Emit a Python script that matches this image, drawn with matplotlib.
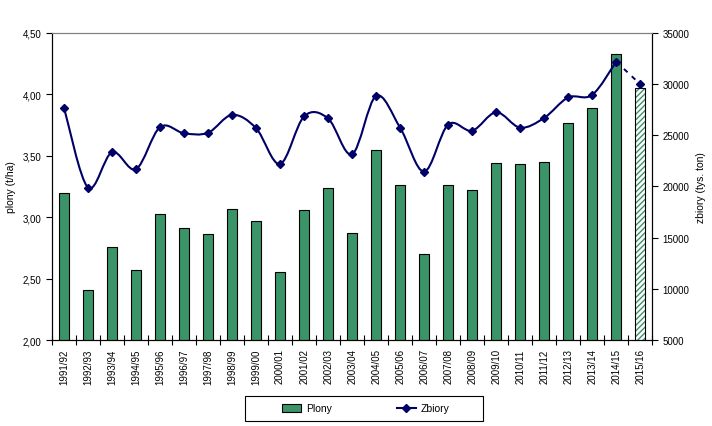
import numpy as np
import matplotlib.pyplot as plt
from matplotlib.path import Path
from matplotlib.patches import PathPatch, Patch, Rectangle
from matplotlib.lines import Line2D
from matplotlib.ticker import FuncFormatter

plt.rcParams['font.family'] = ['Liberation Sans', 'DejaVu Sans']
plt.rcParams['hatch.linewidth'] = 1.0

# dane
sezony = ['1991/92', '1992/93', '1993/94', '1994/95', '1995/96', '1996/97', '1997/98',
          '1998/99', '1999/00', '2000/01', '2001/02', '2002/03', '2003/04', '2004/05',
          '2005/06', '2006/07', '2007/08', '2008/09', '2009/10', '2010/11', '2011/12',
          '2012/13', '2013/14', '2014/15', '2015/16']
plony = [3.20, 2.41, 2.76, 2.57, 3.03, 2.91, 2.86, 3.07, 2.97, 2.55, 3.06, 3.24, 2.87,
         3.55, 3.26, 2.70, 3.26, 3.22, 3.44, 3.43, 3.45, 3.77, 3.89, 4.33, 4.05]
zbiory = [27700, 19900, 23350, 21700, 25800, 25200, 25250, 27000, 25700, 22200, 26850,
          26650, 23150, 28850, 25750, 21450, 26050, 25450, 27250, 25750, 26700, 28700,
          28950, 32200, 30000]

GREEN = '#3a9467'
NAVY = '#000066'

fig = plt.figure(figsize=(7.12, 4.27), dpi=100)
ax = fig.add_axes([0.073, 0.2014, 0.843, 0.719])
ax2 = ax.twinx()

x = np.arange(len(sezony))
bw = 0.4

# slupki - ostatni (prognoza) kreskowany
ax.bar(x[:-1], plony[:-1], width=bw, color=GREEN, edgecolor='black', linewidth=0.8, zorder=2)
ax.bar(x[-1:], plony[-1:], width=bw, color='white', edgecolor=GREEN, linewidth=0,
       hatch='//////', zorder=2)
ax.bar(x[-1:], plony[-1:], width=bw, color='none', edgecolor='black', linewidth=0.8, zorder=3)

# wygladzona linia (Catmull-Rom -> Bezier), jak w Excelu
pts = np.column_stack([x[:-1], zbiory[:-1]]).astype(float)
verts = [pts[0]]
codes = [Path.MOVETO]
n = len(pts)
for i in range(n - 1):
    p0 = pts[max(i - 1, 0)]
    p1 = pts[i]
    p2 = pts[i + 1]
    p3 = pts[min(i + 2, n - 1)]
    verts += [p1 + (p2 - p0) / 6, p2 - (p3 - p1) / 6, p2]
    codes += [Path.CURVE4] * 3
ax2.add_patch(PathPatch(Path(verts, codes), facecolor='none', edgecolor=NAVY, lw=1.5, zorder=4))
ax2.plot(x[-2:], zbiory[-2:], color=NAVY, lw=1.4, ls=(0, (2.5, 3)), zorder=4)
ax2.plot(x, zbiory, ls='none', marker='D', ms=4.5, color=NAVY, zorder=5)

ax.set_xlim(-0.5, len(sezony) - 0.5)
ax.set_ylim(2.0, 4.5)
ax.set_yticks(np.arange(2.0, 4.51, 0.5))
ax.yaxis.set_major_formatter(FuncFormatter(lambda v, p: f'{v:.2f}'.replace('.', ',')))
ax2.set_ylim(5000, 35000)
ax2.set_yticks(np.arange(5000, 35001, 5000))

ax.set_xticks(np.arange(-0.5, len(sezony), 1.0))
ax.set_xticklabels([])
ax.set_xticks(x, minor=True)
ax.set_xticklabels(sezony, minor=True, rotation=90, fontsize=7)
ax.tick_params(axis='x', which='major', direction='inout', length=7, width=0.8)
ax.tick_params(axis='x', which='minor', length=0, pad=6)
ax.tick_params(axis='y', direction='out', length=4, labelsize=7)
ax2.tick_params(axis='y', direction='out', length=4, labelsize=7)

ax.set_ylabel('plony (t/ha)', fontsize=7.5, labelpad=5)
ax2.set_ylabel('zbiory (tys. ton)', fontsize=7.5, rotation=90, labelpad=5)

for a in (ax, ax2):
    a.spines['top'].set_color('#808080')
    for s in ('left', 'right', 'bottom'):
        a.spines[s].set_color('black')
        a.spines[s].set_linewidth(0.8)

# legenda w ramce
fig.patches.append(Rectangle((245 / 712, 1 - 422 / 427), 238 / 712, 25 / 427,
                             transform=fig.transFigure, facecolor='white',
                             edgecolor='black', linewidth=0.8))
handles = [Patch(facecolor=GREEN, edgecolor='black', linewidth=0.8),
           Line2D([], [], color=NAVY, lw=1.5, marker='D', ms=4)]
fig.legend(handles, ['Plony', 'Zbiory'], ncol=2, loc='center',
           bbox_to_anchor=(366 / 712, 1 - 409.5 / 427), fontsize=7.5, frameon=False,
           columnspacing=6.2, handlelength=1.8, handletextpad=0.5)

fig.savefig('out.png', dpi=100, facecolor='white')
